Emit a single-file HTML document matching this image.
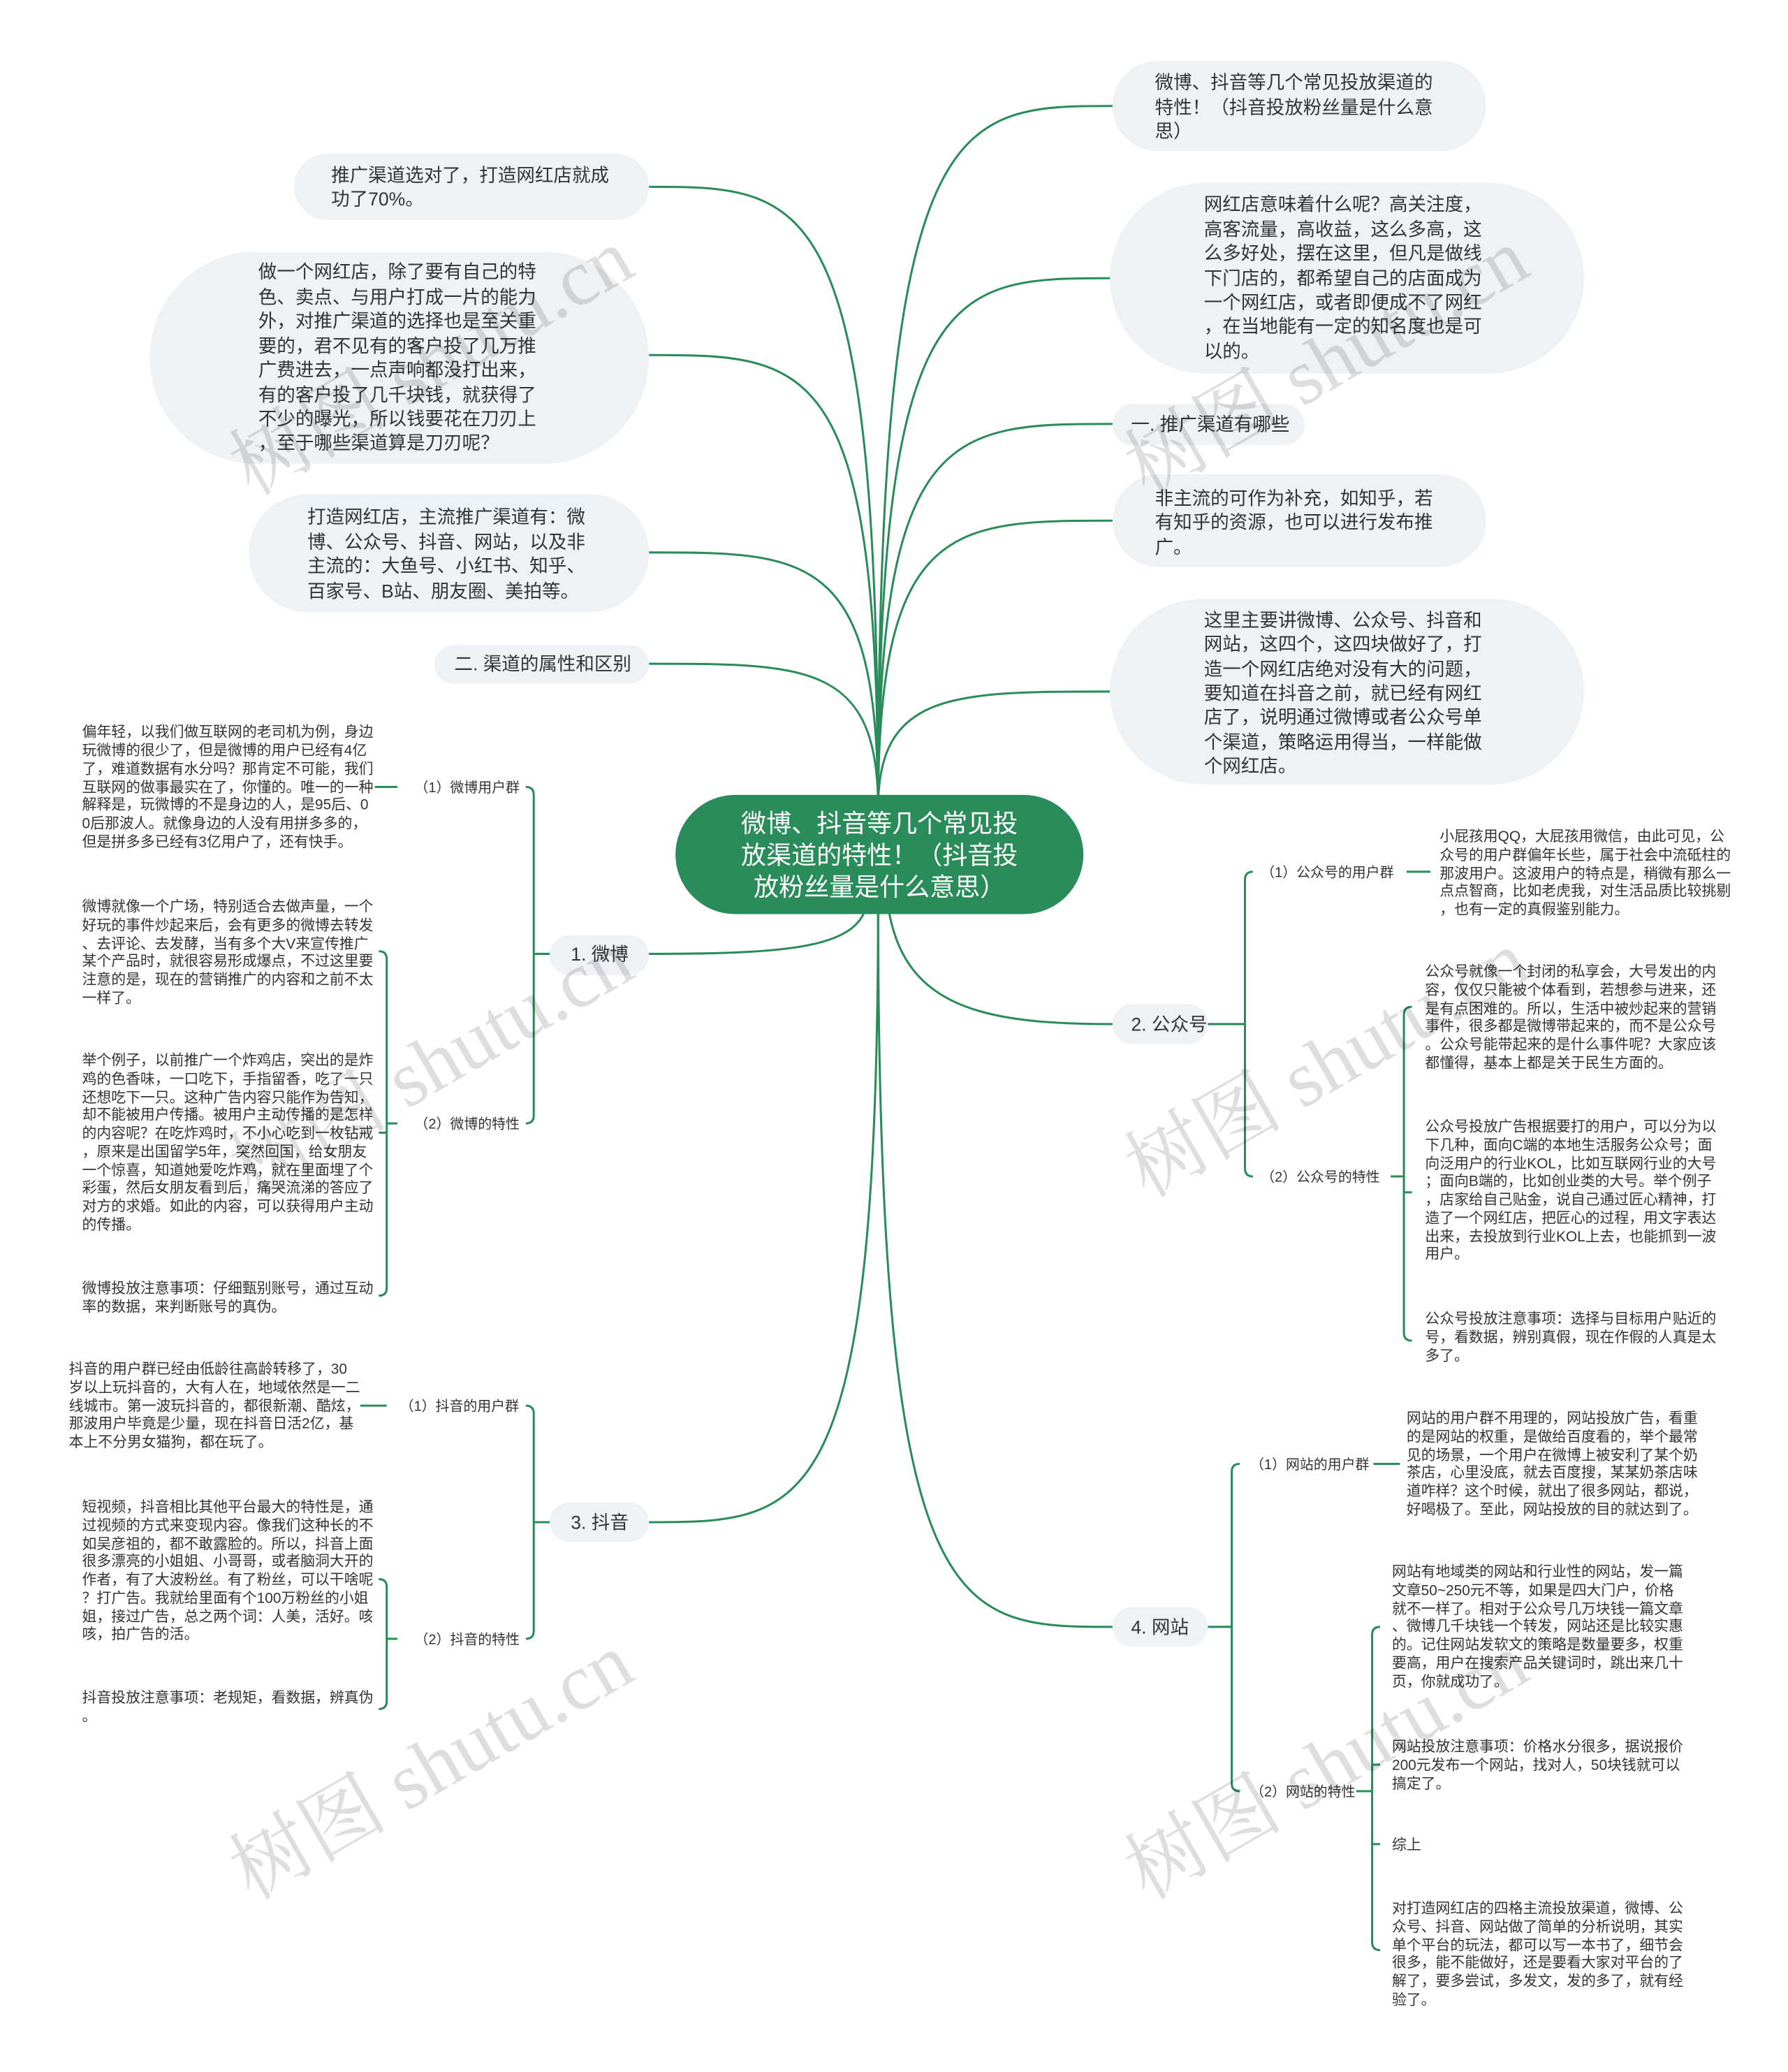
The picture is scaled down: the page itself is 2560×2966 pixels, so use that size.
<!DOCTYPE html>
<html><head><meta charset="utf-8"><style>
html,body{margin:0;padding:0;background:#fff;}
svg{display:block;}
text{font-family:"Liberation Sans","Noto Sans CJK SC",sans-serif;}
.n{font-size:14px;fill:#333;}
.l{font-size:11px;fill:#333;}
.s{font-size:10.5px;fill:#333;}
.c{fill:none;stroke:#2a8c5a;stroke-width:1.6;}
.b{fill:#eff2f5;}
.w{font-family:"Liberation Serif","Noto Serif CJK SC",serif;font-size:60px;fill:rgba(0,0,0,0.13);}
</style></head><body>
<svg width="2560" height="2966" viewBox="0 0 1350 1564" preserveAspectRatio="none" xmlns="http://www.w3.org/2000/svg">
<g class="c">
<path d="M663 610 C663 80 720 80 840 80"/>
<path d="M663 610 C663 210 720 210 838 210"/>
<path d="M663 610 C663 320 720 320 840 320"/>
<path d="M663 610 C663 393 720 393 840 393"/>
<path d="M663 610 C663 522 720 522 838 522"/>
<path d="M663 610 C663 141 610 141 490 141"/>
<path d="M663 610 C663 268 610 268 490 268"/>
<path d="M663 610 C663 417 610 417 490 417"/>
<path d="M663 610 C663 501 610 501 490 501"/>
<path d="M655 680 C650 715 600 720 490 720"/>
<path d="M670 680 C680 760 740 773 840 773"/>
<path d="M663 680 C663 1149 610 1149 490 1149"/>
<path d="M663 680 C663 1228 720 1228 840 1228"/>
<path d="M415 720 L403 720"/>
<path d="M397 594 Q403 594 403 600 L403 842 Q403 848 397 848"/>
<path d="M283 594 L300 594"/>
<path d="M300 848 L292 848"/>
<path d="M286 718 Q292 718 292 724 L292 972 Q292 978 286 978"/>
<path d="M286 855 L292 855"/>
<path d="M415 1149 L403 1149"/>
<path d="M397 1061 Q403 1061 403 1067 L403 1231 Q403 1237 397 1237"/>
<path d="M272 1061 L292 1061"/>
<path d="M300 1237 L292 1237"/>
<path d="M286 1192 Q292 1192 292 1198 L292 1284 Q292 1290 286 1290"/>
<path d="M912 773 L940 773"/>
<path d="M946 658 Q940 658 940 664 L940 882 Q940 888 946 888"/>
<path d="M1062 658 L1080 658"/>
<path d="M1050 888 L1060 888"/>
<path d="M1066 760 Q1060 760 1060 766 L1060 1006 Q1060 1012 1066 1012"/>
<path d="M1060 900 L1066 900"/>
<path d="M912 1228 L930 1228"/>
<path d="M936 1105 Q930 1105 930 1111 L930 1346 Q930 1352 936 1352"/>
<path d="M1037 1105 L1057 1105"/>
<path d="M1024 1352 L1036 1352"/>
<path d="M1042 1228 Q1036 1228 1036 1234 L1036 1466 Q1036 1472 1042 1472"/>
<path d="M1036 1332 L1042 1332"/>
<path d="M1036 1392 L1042 1392"/>
</g>

<rect class="b" x="840" y="46" width="282" height="68" rx="34"/>
<rect class="b" x="838" y="138" width="358" height="144" rx="72"/>
<rect class="b" x="840" y="305" width="145" height="31" rx="15.5"/>
<rect class="b" x="840" y="358" width="282" height="70" rx="35"/>
<rect class="b" x="838" y="452" width="358" height="140" rx="70"/>
<rect class="b" x="222" y="116" width="268" height="50" rx="25"/>
<rect class="b" x="113" y="190" width="377" height="160" rx="80"/>
<rect class="b" x="188" y="373" width="302" height="89" rx="44"/>
<rect class="b" x="328" y="487" width="162" height="29" rx="14.5"/>
<rect class="b" x="415" y="706" width="75" height="30" rx="15"/>
<rect class="b" x="415" y="1134" width="75" height="30" rx="15"/>
<rect class="b" x="840" y="758" width="72" height="30" rx="15"/>
<rect class="b" x="840" y="1213" width="72" height="30" rx="15"/>

<rect x="510" y="600" width="308" height="90" rx="45" fill="#2a8c5a"/>
<text x="664" font-size="19" fill="#fff" text-anchor="middle"><tspan x="664" y="628">微博、抖音等几个常见投</tspan><tspan x="664" y="652">放渠道的特性！（抖音投</tspan><tspan x="664" y="676">放粉丝量是什么意思）</tspan></text>

<text class="n"><tspan x="872" y="67">微博、抖音等几个常见投放渠道的</tspan><tspan x="872" y="86">特性！（抖音投放粉丝量是什么意</tspan><tspan x="872" y="104">思）</tspan></text>
<text class="n"><tspan x="909" y="159">网红店意味着什么呢？高关注度，</tspan><tspan x="909" y="178">高客流量，高收益，这么多高，这</tspan><tspan x="909" y="196">么多好处，摆在这里，但凡是做线</tspan><tspan x="909" y="215">下门店的，都希望自己的店面成为</tspan><tspan x="909" y="233">一个网红店，或者即便成不了网红</tspan><tspan x="909" y="251">，在当地能有一定的知名度也是可</tspan><tspan x="909" y="270">以的。</tspan></text>
<text class="n" x="854" y="325">一. 推广渠道有哪些</text>
<text class="n"><tspan x="872" y="381">非主流的可作为补充，如知乎，若</tspan><tspan x="872" y="399">有知乎的资源，也可以进行发布推</tspan><tspan x="872" y="418">广。</tspan></text>
<text class="n"><tspan x="909" y="473">这里主要讲微博、公众号、抖音和</tspan><tspan x="909" y="491">网站，这四个，这四块做好了，打</tspan><tspan x="909" y="510">造一个网红店绝对没有大的问题，</tspan><tspan x="909" y="528">要知道在抖音之前，就已经有网红</tspan><tspan x="909" y="546">店了，说明通过微博或者公众号单</tspan><tspan x="909" y="565">个渠道，策略运用得当，一样能做</tspan><tspan x="909" y="583">个网红店。</tspan></text>

<text class="n"><tspan x="250" y="137">推广渠道选对了，打造网红店就成</tspan><tspan x="250" y="155">功了70%。</tspan></text>
<text class="n"><tspan x="195" y="210">做一个网红店，除了要有自己的特</tspan><tspan x="195" y="229">色、卖点、与用户打成一片的能力</tspan><tspan x="195" y="247">外，对推广渠道的选择也是至关重</tspan><tspan x="195" y="266">要的，君不见有的客户投了几万推</tspan><tspan x="195" y="284">广费进去，一点声响都没打出来，</tspan><tspan x="195" y="303">有的客户投了几千块钱，就获得了</tspan><tspan x="195" y="321">不少的曝光，所以钱要花在刀刃上</tspan><tspan x="195" y="339">，至于哪些渠道算是刀刃呢？</tspan></text>
<text class="n"><tspan x="232" y="395">打造网红店，主流推广渠道有：微</tspan><tspan x="232" y="414">博、公众号、抖音、网站，以及非</tspan><tspan x="232" y="432">主流的：大鱼号、小红书、知乎、</tspan><tspan x="232" y="451">百家号、B站、朋友圈、美拍等。</tspan></text>
<text class="n" x="343" y="506">二. 渠道的属性和区别</text>

<text class="n" x="431" y="725">1. 微博</text>
<text class="n" x="431" y="1154">3. 抖音</text>
<text class="n" x="854" y="778">2. 公众号</text>
<text class="n" x="854" y="1233">4. 网站</text>

<text class="s" x="313" y="598">（1）微博用户群</text>
<text class="s" x="313" y="852">（2）微博的特性</text>
<text class="s" x="302" y="1065">（1）抖音的用户群</text>
<text class="s" x="313" y="1241">（2）抖音的特性</text>
<text class="s" x="952" y="662">（1）公众号的用户群</text>
<text class="s" x="952" y="892">（2）公众号的特性</text>
<text class="s" x="944" y="1109">（1）网站的用户群</text>
<text class="s" x="944" y="1356">（2）网站的特性</text>

<text class="l"><tspan x="62" y="556">偏年轻，以我们做互联网的老司机为例，身边</tspan><tspan x="62" y="570">玩微博的很少了，但是微博的用户已经有4亿</tspan><tspan x="62" y="584">了，难道数据有水分吗？那肯定不可能，我们</tspan><tspan x="62" y="598">互联网的做事最实在了，你懂的。唯一的一种</tspan><tspan x="62" y="611">解释是，玩微博的不是身边的人，是95后、0</tspan><tspan x="62" y="625">0后那波人。就像身边的人没有用拼多多的，</tspan><tspan x="62" y="639">但是拼多多已经有3亿用户了，还有快手。</tspan></text>
<text class="l"><tspan x="62" y="688">微博就像一个广场，特别适合去做声量，一个</tspan><tspan x="62" y="702">好玩的事件炒起来后，会有更多的微博去转发</tspan><tspan x="62" y="716">、去评论、去发酵，当有多个大V来宣传推广</tspan><tspan x="62" y="729">某个产品时，就很容易形成爆点，不过这里要</tspan><tspan x="62" y="743">注意的是，现在的营销推广的内容和之前不太</tspan><tspan x="62" y="757">一样了。</tspan></text>
<text class="l"><tspan x="62" y="804">举个例子，以前推广一个炸鸡店，突出的是炸</tspan><tspan x="62" y="818">鸡的色香味，一口吃下，手指留香，吃了一只</tspan><tspan x="62" y="832">还想吃下一只。这种广告内容只能作为告知，</tspan><tspan x="62" y="845">却不能被用户传播。被用户主动传播的是怎样</tspan><tspan x="62" y="859">的内容呢？在吃炸鸡时，不小心吃到一枚钻戒</tspan><tspan x="62" y="873">，原来是出国留学5年，突然回国，给女朋友</tspan><tspan x="62" y="887">一个惊喜，知道她爱吃炸鸡，就在里面埋了个</tspan><tspan x="62" y="900">彩蛋，然后女朋友看到后，痛哭流涕的答应了</tspan><tspan x="62" y="914">对方的求婚。如此的内容，可以获得用户主动</tspan><tspan x="62" y="928">的传播。</tspan></text>
<text class="l"><tspan x="62" y="976">微博投放注意事项：仔细甄别账号，通过互动</tspan><tspan x="62" y="990">率的数据，来判断账号的真伪。</tspan></text>

<text class="l"><tspan x="52" y="1037">抖音的用户群已经由低龄往高龄转移了，30</tspan><tspan x="52" y="1051">岁以上玩抖音的，大有人在，地域依然是一二</tspan><tspan x="52" y="1065">线城市。第一波玩抖音的，都很新潮、酷炫，</tspan><tspan x="52" y="1078">那波用户毕竟是少量，现在抖音日活2亿，基</tspan><tspan x="52" y="1092">本上不分男女猫狗，都在玩了。</tspan></text>
<text class="l"><tspan x="62" y="1141">短视频，抖音相比其他平台最大的特性是，通</tspan><tspan x="62" y="1155">过视频的方式来变现内容。像我们这种长的不</tspan><tspan x="62" y="1169">如吴彦祖的，都不敢露脸的。所以，抖音上面</tspan><tspan x="62" y="1182">很多漂亮的小姐姐、小哥哥，或者脑洞大开的</tspan><tspan x="62" y="1196">作者，有了大波粉丝。有了粉丝，可以干啥呢</tspan><tspan x="62" y="1210">？打广告。我就给里面有个100万粉丝的小姐</tspan><tspan x="62" y="1224">姐，接过广告，总之两个词：人美，活好。咳</tspan><tspan x="62" y="1237">咳，拍广告的活。</tspan></text>
<text class="l"><tspan x="62" y="1285">抖音投放注意事项：老规矩，看数据，辨真伪</tspan><tspan x="62" y="1299">。</tspan></text>

<text class="l"><tspan x="1087" y="635">小屁孩用QQ，大屁孩用微信，由此可见，公</tspan><tspan x="1087" y="649">众号的用户群偏年长些，属于社会中流砥柱的</tspan><tspan x="1087" y="663">那波用户。这波用户的特点是，稍微有那么一</tspan><tspan x="1087" y="676">点点智商，比如老虎我，对生活品质比较挑剔</tspan><tspan x="1087" y="690">，也有一定的真假鉴别能力。</tspan></text>
<text class="l"><tspan x="1076" y="737">公众号就像一个封闭的私享会，大号发出的内</tspan><tspan x="1076" y="751">容，仅仅只能被个体看到，若想参与进来，还</tspan><tspan x="1076" y="765">是有点困难的。所以，生活中被炒起来的营销</tspan><tspan x="1076" y="778">事件，很多都是微博带起来的，而不是公众号</tspan><tspan x="1076" y="792">。公众号能带起来的是什么事件呢？大家应该</tspan><tspan x="1076" y="806">都懂得，基本上都是关于民生方面的。</tspan></text>
<text class="l"><tspan x="1076" y="854">公众号投放广告根据要打的用户，可以分为以</tspan><tspan x="1076" y="868">下几种，面向C端的本地生活服务公众号；面</tspan><tspan x="1076" y="882">向泛用户的行业KOL，比如互联网行业的大号</tspan><tspan x="1076" y="895">；面向B端的，比如创业类的大号。举个例子</tspan><tspan x="1076" y="909">，店家给自己贴金，说自己通过匠心精神，打</tspan><tspan x="1076" y="923">造了一个网红店，把匠心的过程，用文字表达</tspan><tspan x="1076" y="937">出来，去投放到行业KOL上去，也能抓到一波</tspan><tspan x="1076" y="950">用户。</tspan></text>
<text class="l"><tspan x="1076" y="999">公众号投放注意事项：选择与目标用户贴近的</tspan><tspan x="1076" y="1013">号，看数据，辨别真假，现在作假的人真是太</tspan><tspan x="1076" y="1027">多了。</tspan></text>

<text class="l"><tspan x="1062" y="1074">网站的用户群不用理的，网站投放广告，看重</tspan><tspan x="1062" y="1088">的是网站的权重，是做给百度看的，举个最常</tspan><tspan x="1062" y="1102">见的场景，一个用户在微博上被安利了某个奶</tspan><tspan x="1062" y="1115">茶店，心里没底，就去百度搜，某某奶茶店味</tspan><tspan x="1062" y="1129">道咋样？这个时候，就出了很多网站，都说，</tspan><tspan x="1062" y="1143">好喝极了。至此，网站投放的目的就达到了。</tspan></text>
<text class="l"><tspan x="1051" y="1190">网站有地域类的网站和行业性的网站，发一篇</tspan><tspan x="1051" y="1204">文章50~250元不等，如果是四大门户，价格</tspan><tspan x="1051" y="1218">就不一样了。相对于公众号几万块钱一篇文章</tspan><tspan x="1051" y="1231">、微博几千块钱一个转发，网站还是比较实惠</tspan><tspan x="1051" y="1245">的。记住网站发软文的策略是数量要多，权重</tspan><tspan x="1051" y="1259">要高，用户在搜索产品关键词时，跳出来几十</tspan><tspan x="1051" y="1273">页，你就成功了。</tspan></text>
<text class="l"><tspan x="1051" y="1322">网站投放注意事项：价格水分很多，据说报价</tspan><tspan x="1051" y="1336">200元发布一个网站，找对人，50块钱就可以</tspan><tspan x="1051" y="1350">搞定了。</tspan></text>
<text class="l" x="1051" y="1396">综上</text>
<text class="l"><tspan x="1051" y="1444">对打造网红店的四格主流投放渠道，微博、公</tspan><tspan x="1051" y="1458">众号、抖音、网站做了简单的分析说明，其实</tspan><tspan x="1051" y="1472">单个平台的玩法，都可以写一本书了，细节会</tspan><tspan x="1051" y="1485">很多，能不能做好，还是要看大家对平台的了</tspan><tspan x="1051" y="1499">解了，要多尝试，多发文，发的多了，就有经</tspan><tspan x="1051" y="1513">验了。</tspan></text>

<text class="w" transform="translate(190 375) rotate(-30)">树图 shutu.cn</text>
<text class="w" transform="translate(190 905) rotate(-30)">树图 shutu.cn</text>
<text class="w" transform="translate(190 1435) rotate(-30)">树图 shutu.cn</text>
<text class="w" transform="translate(866 375) rotate(-30)">树图 shutu.cn</text>
<text class="w" transform="translate(866 905) rotate(-30)">树图 shutu.cn</text>
<text class="w" transform="translate(866 1435) rotate(-30)">树图 shutu.cn</text>
</svg>
</body></html>
